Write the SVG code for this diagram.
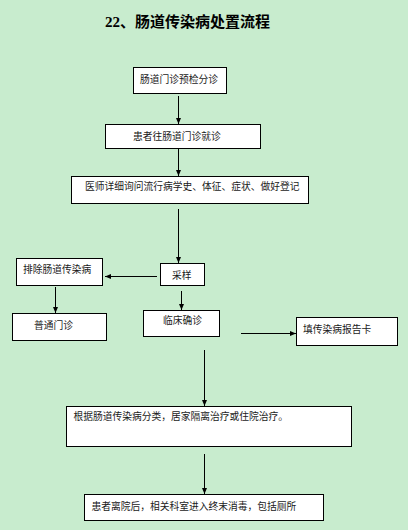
<svg xmlns="http://www.w3.org/2000/svg" width="408" height="530" viewBox="0 0 408 530">
<style>
.bx{fill:#ffffff;stroke:#000000;stroke-width:1}
.t{font-family:"Noto Sans CJK SC","Liberation Sans",sans-serif;font-size:9.75px;fill:#1a1a1a}
.ttl{font-family:"Liberation Serif","Noto Sans CJK SC",serif;font-size:15px;font-weight:bold;fill:#000}
.ln{stroke:#000;stroke-width:1;fill:none;marker-end:url(#ah)}
</style>
<defs>
<marker id="ah" viewBox="0 0 6 6" refX="6" refY="3" markerWidth="6" markerHeight="6" markerUnits="userSpaceOnUse" orient="auto">
<path d="M0,0.5 L6,3 L0,5.5 Z" fill="#000"/>
</marker>
</defs>
<rect x="0" y="0" width="408" height="530" fill="#c8ecce"/>
<text class="ttl" x="105" y="27">22、肠道传染病处置流程</text>
<g id="n1"><rect class="bx" x="133.5" y="67.5" width="93" height="26"/><text class="t" x="140" y="83">肠道门诊预检分诊</text></g>
<g id="n2"><rect class="bx" x="105.5" y="124.5" width="155" height="24"/><text class="t" x="133" y="139.5">患者往肠道门诊就诊</text></g>
<g id="n3"><rect class="bx" x="71.5" y="176.5" width="237" height="27"/><text class="t" x="85" y="190">医师详细询问流行病学史、体征、症状、做好登记</text></g>
<g id="n4"><rect class="bx" x="160.5" y="263.5" width="44" height="22"/><text class="t" x="172" y="278.5">采样</text></g>
<g id="n5"><rect class="bx" x="16.5" y="258.5" width="86" height="27"/><text class="t" x="23" y="272.5">排除肠道传染病</text></g>
<g id="n6"><rect class="bx" x="12.5" y="313.5" width="94" height="27"/><text class="t" x="34" y="328.5">普通门诊</text></g>
<g id="n7"><rect class="bx" x="143.5" y="310.5" width="76" height="26"/><text class="t" x="163" y="324">临床确诊</text></g>
<g id="n8"><rect class="bx" x="296.5" y="317.5" width="101" height="28"/><text class="t" x="303" y="332.5">填传染病报告卡</text></g>
<g id="n9"><rect class="bx" x="66.5" y="406.5" width="285" height="40"/><text class="t" x="73.5" y="420">根据肠道传染病分类，居家隔离治疗或住院治疗。</text></g>
<g id="n10"><rect class="bx" x="84.5" y="494.5" width="239" height="26"/><text class="t" x="91.5" y="509.5">患者离院后，相关科室进入终末消毒，包括厕所</text></g>
<g id="connectors">
<line class="ln" x1="178.5" y1="96" x2="178.5" y2="124"/>
<line class="ln" x1="178.5" y1="149" x2="178.5" y2="176"/>
<line class="ln" x1="178.5" y1="209" x2="178.5" y2="263"/>
<line class="ln" x1="157" y1="276.5" x2="105" y2="276.5"/>
<line class="ln" x1="55.5" y1="287" x2="55.5" y2="313"/>
<line class="ln" x1="181.5" y1="291" x2="181.5" y2="310"/>
<line class="ln" x1="241" y1="333.5" x2="296" y2="333.5"/>
<line class="ln" x1="204.5" y1="350" x2="204.5" y2="406"/>
<line class="ln" x1="204.5" y1="454" x2="204.5" y2="494"/>
</g>
</svg>
